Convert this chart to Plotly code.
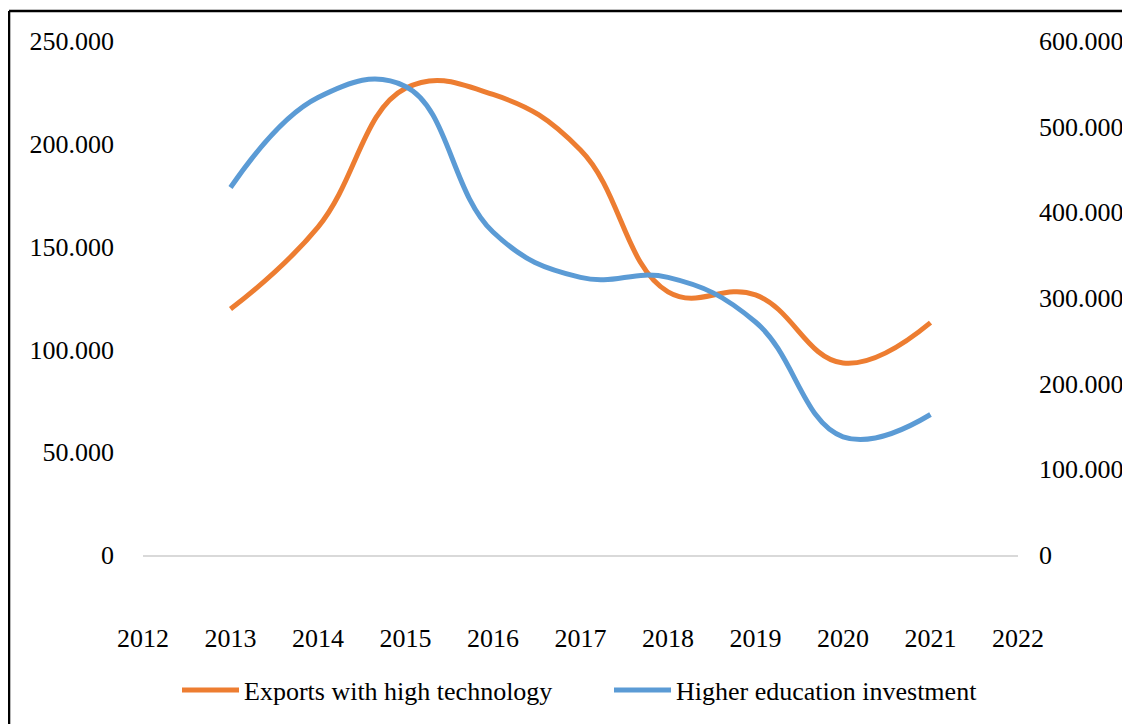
import plotly.graph_objects as go

years = [2013, 2014, 2015, 2016, 2017, 2018, 2019, 2020, 2021]
exports_high_tech = [119600, 159500, 227000, 224000, 197000, 128000, 126500, 93400, 113000]
higher_edu_invest = [429000, 534000, 547000, 377000, 324000, 324000, 272000, 138000, 164000]

x_ticks = list(range(2012, 2023))
left_ticks = [0, 50000, 100000, 150000, 200000, 250000]
right_ticks = [0, 100000, 200000, 300000, 400000, 500000, 600000]

font_family = "Liberation Serif, Times New Roman, serif"

PLOT_L, PLOT_W = 143, 875

fig = go.Figure()
fig.add_trace(go.Scatter(
    x=years, y=exports_high_tech, name="Exports with high technology",
    mode="lines", line=dict(color="#ED7D31", width=5, shape="spline", smoothing=1.2),
    yaxis="y", legend="legend"))
fig.add_trace(go.Scatter(
    x=years, y=higher_edu_invest, name="Higher education investment",
    mode="lines", line=dict(color="#5B9BD5", width=5, shape="spline", smoothing=1.2),
    yaxis="y2", legend="legend2"))

leg_common = dict(orientation="h", y=-0.263, yanchor="middle", xanchor="left",
                  font=dict(size=26), itemwidth=57, bgcolor="rgba(0,0,0,0)")

fig.update_layout(
    width=1122, height=716,
    margin=dict(l=135, r=112, t=33, b=169, autoexpand=False),
    paper_bgcolor="white", plot_bgcolor="white",
    separators=",.",
    font=dict(family=font_family, size=26, color="#000000"),
    xaxis=dict(range=[2012, 2022], tickvals=x_ticks, ticktext=[str(v) for v in x_ticks],
               showgrid=False, zeroline=False, showline=True, linecolor="#d9d9d9", linewidth=1.5,
               ticks="", ticklabelstandoff=59, automargin=False),
    yaxis=dict(range=[0, 250000], tickvals=left_ticks, tickformat=",d",
               showgrid=False, zeroline=False, showline=False, ticks="",
               ticklabelstandoff=28, automargin=False),
    yaxis2=dict(range=[0, 600000], tickvals=right_ticks, tickformat=",d",
                overlaying="y", side="right", showgrid=False, zeroline=False,
                showline=False, ticks="", ticklabelstandoff=20, automargin=False),
    legend=dict(x=(177 - PLOT_L) / PLOT_W, **leg_common),
    legend2=dict(x=(609 - PLOT_L) / PLOT_W, **leg_common),
    showlegend=True,
)

fig.add_shape(type="line", xref="paper", yref="paper",
              x0=-0.1531, x1=-0.1531, y0=1.0584, y1=-0.5,
              line=dict(color="black", width=2.5))
fig.add_shape(type="line", xref="paper", yref="paper",
              x0=-0.1531, x1=1.3, y0=1.0584, y1=1.0584,
              line=dict(color="black", width=2.5))

fig.write_html("out.html")
